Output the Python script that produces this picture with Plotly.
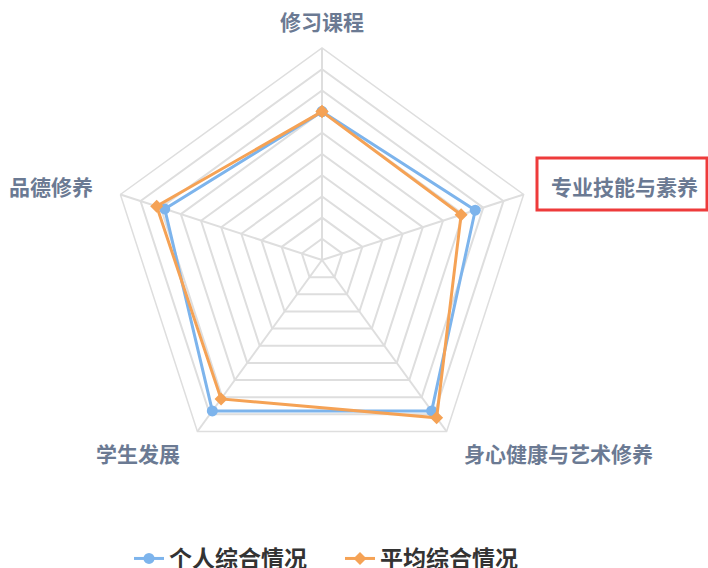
import math
import plotly.graph_objects as go

categories = ["修习课程", "专业技能与素养", "身心健康与艺术修养", "学生发展", "品德修养"]
personal = [70, 76, 88, 88, 78]
average = [70, 69, 92, 81, 82]
series_names = ["个人综合情况", "平均综合情况"]

FONT = "Noto Sans CJK SC"
W, H = 708, 580          # page is 708x568; extra height is hidden (legend cut like the reference)
CX, CY, R = 322, 260, 212  # radar centre / radius in pixels
LABEL_GAP = 27

def px_x(x):
    return x / W

def px_y(y):
    return (H - y) / H

def closed(v):
    return v + v[:1]

fig = go.Figure()
fig.add_trace(go.Scatterpolar(
    r=closed(personal), theta=closed(categories), name=series_names[0],
    mode="lines+markers",
    line=dict(color="#7DB4EC", width=3),
    marker=dict(symbol="circle", size=11, color="#7DB4EC"),
))
fig.add_trace(go.Scatterpolar(
    r=closed(average), theta=closed(categories), name=series_names[1],
    mode="lines+markers",
    line=dict(color="#F5A255", width=3),
    marker=dict(symbol="diamond", size=10, color="#F5A255"),
))

# category labels placed just outside each vertex (radar-style)
n = len(categories)
for i, name in enumerate(categories):
    ang = math.radians(90 - 360 * i / n)
    ux, uy = math.cos(ang), -math.sin(ang)
    x = CX + (R + LABEL_GAP) * ux
    y = CY + (R + LABEL_GAP) * uy
    if abs(ux) < 0.1:
        xa = "center"
    elif ux > 0:
        xa = "left"
    else:
        xa = "right"
    fig.add_annotation(x=px_x(x), y=px_y(y), xref="paper", yref="paper",
                       text=name, showarrow=False, xanchor=xa, yanchor="middle",
                       font=dict(size=21, color="#6B7A93", family=FONT, weight="bold"))

fig.update_layout(
    width=W, height=H,
    margin=dict(l=0, r=0, t=0, b=0),
    paper_bgcolor="white", plot_bgcolor="white",
    font=dict(family=FONT),
    polar=dict(
        domain=dict(x=[px_x(CX - R), px_x(CX + R)], y=[px_y(CY + R), px_y(CY - R)]),
        bgcolor="white",
        gridshape="linear",
        radialaxis=dict(range=[0, 100], dtick=10, showticklabels=False, ticks="",
                        showline=False, gridcolor="#DEDEDE", gridwidth=1.5),
        angularaxis=dict(rotation=90, direction="clockwise", showticklabels=False,
                         gridcolor="#DEDEDE", gridwidth=1.5,
                         linecolor="#DEDEDE", linewidth=1.5, ticks=""),
    ),
    legend=dict(orientation="h", x=px_x(340), xanchor="center", y=0, yanchor="bottom",
                font=dict(size=23, color="#333333", weight="bold"), itemwidth=30,
                entrywidth=166),
    showlegend=True,
)
fig.add_shape(type="rect", xref="paper", yref="paper",
              x0=px_x(537), x1=px_x(707), y0=px_y(210), y1=px_y(158),
              line=dict(color="#EE3B3B", width=3))

fig.write_html("out.html", config={"displayModeBar": False}, post_script=(
    "document.body.style.margin='0';"
    "document.body.style.overflow='hidden';"
    "document.documentElement.style.overflow='hidden';"))
